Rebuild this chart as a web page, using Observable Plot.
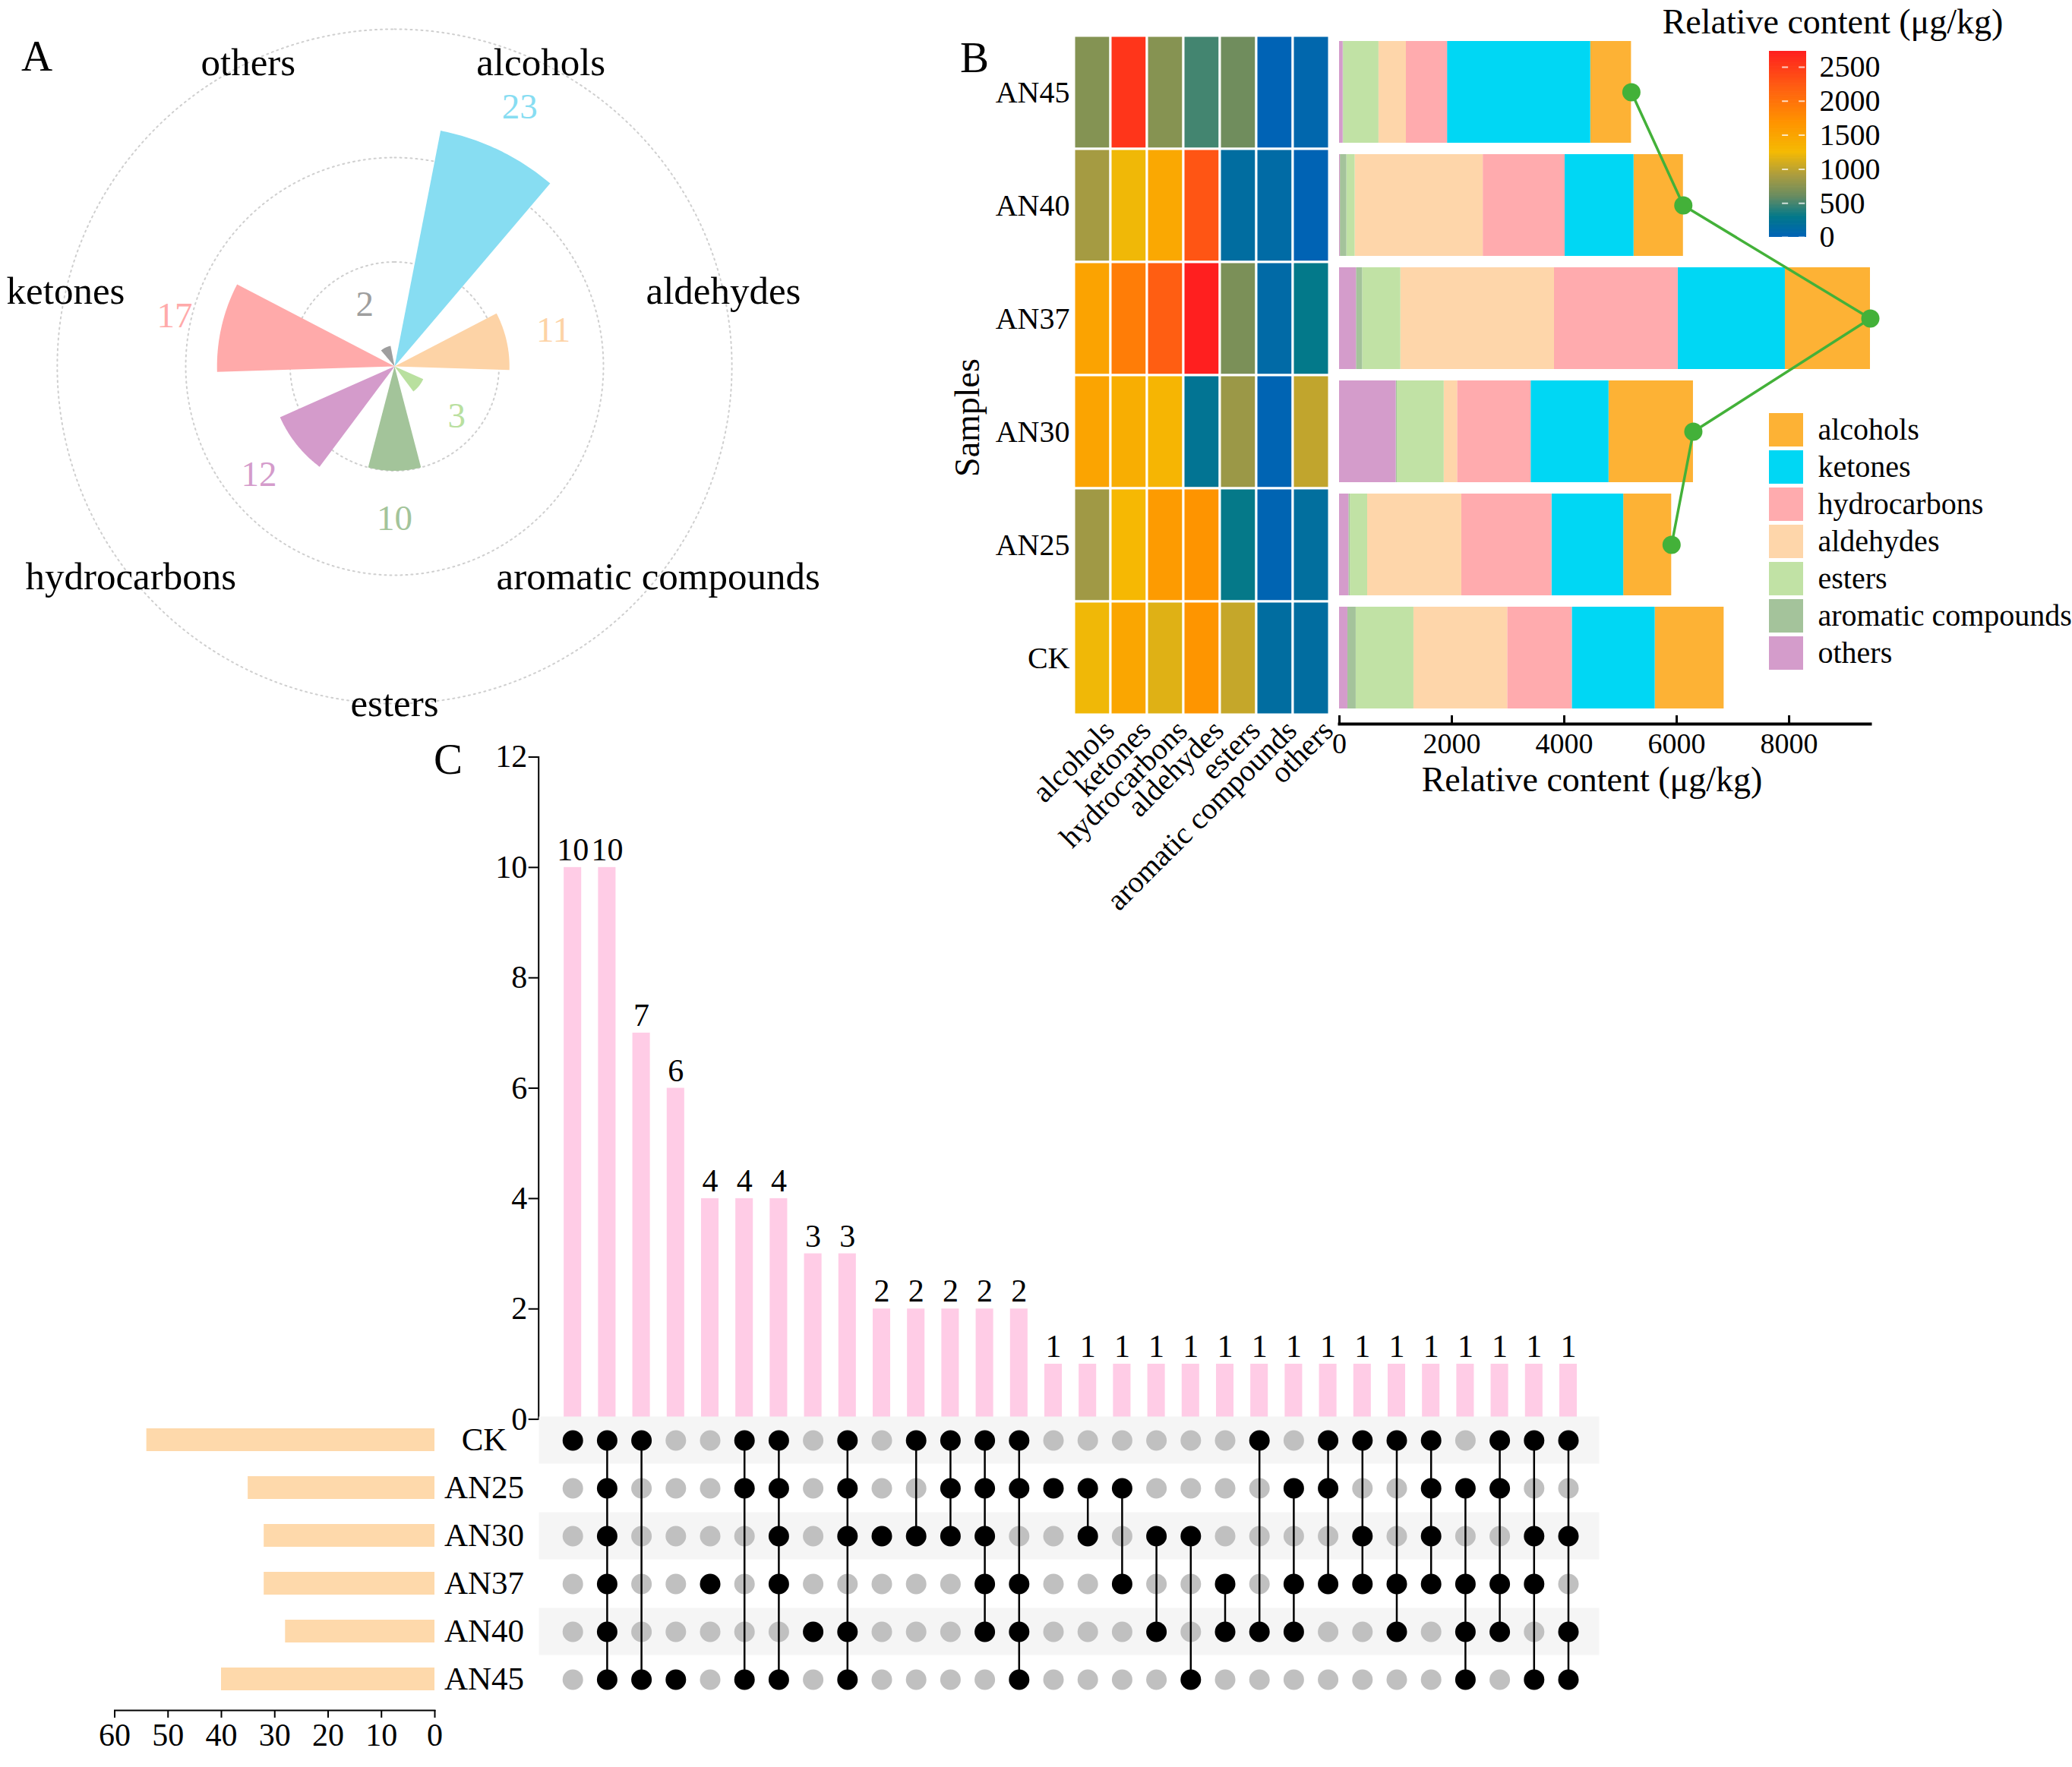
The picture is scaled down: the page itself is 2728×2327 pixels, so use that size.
<!DOCTYPE html>
<html><head><meta charset="utf-8">
<script src="https://cdn.jsdelivr.net/npm/d3@7"></script>
<script src="https://cdn.jsdelivr.net/npm/@observablehq/plot@0.6"></script>
<style>
html,body{margin:0;padding:0;background:#fff;}
#root{position:relative;width:2728px;height:2327px;background:#fff;overflow:hidden;font-family:"Liberation Serif","Times New Roman",serif;color:#000;}
#root > svg{position:absolute;}
.lbl{position:absolute;white-space:nowrap;line-height:1;font-family:"Liberation Serif","Times New Roman",serif;color:#000;}
</style></head>
<body><div id="root"></div>
<script>
// ================= DATA =================
// Panel A: number of compounds per class
const polarCats = ["alcohols","aldehydes","aromatic compounds","esters","hydrocarbons","ketones","others"];
const polarCounts = [23, 11, 3, 10, 12, 17, 2];
const polarColors = ["#87DDF2","#FDD3A6","#B9E09F","#A3C49A","#D49BCB","#FFAAAA","#9E9E9E"];

// Panel B: relative content (ug/kg) per sample (rows top->bottom) and class
const samplesB = ["AN45","AN40","AN37","AN30","AN25","CK"];
const classes = ["alcohols","ketones","hydrocarbons","aldehydes","esters","aromatic compounds","others"];
const alcohols     = [725, 879, 1514, 1502, 853, 1226];
const ketones      = [2548, 1226, 1906, 1386, 1277, 1476];
const hydrocarbons = [732, 1457, 2201, 1309, 1604, 1149];
const aldehydes    = [488, 2278, 2734, 237, 1675, 1668];
const esters       = [629, 148, 680, 834, 308, 1027];
const aromatic     = [8, 115, 109, 20, 25, 148];
const others       = [64, 15, 301, 1008, 167, 148];
const classColors = ["#FDB235","#00D7F4","#FFABAE","#FED6AA","#C1E2A5","#A4C39B","#D49CCB"];
const stackOrder = ["others","aromatic compounds","esters","aldehydes","hydrocarbons","ketones","alcohols"];
const lineSamples = ["AN45","AN40","AN37","AN30","AN25"];
const xTicksB = [0, 2000, 4000, 6000, 8000];
const colorbarTicks = [0, 500, 1000, 1500, 2000, 2500];
const heatPalette = ["#0062B6","#03798A","#6A8C60","#AA9C40","#F5BA03","#FF9200","#FF5E12","#FF1F1F"];
const heatStopsFrac = [0, 0.11, 0.22, 0.33, 0.457, 0.622, 0.805, 1];

// Panel C: UpSet
const setNames = ["CK","AN25","AN30","AN37","AN40","AN45"];
const setSizes = [54, 35, 32, 32, 28, 40];
const interSets = [
  ["CK"],
  ["CK","AN25","AN30","AN37","AN40","AN45"],
  ["CK","AN45"],
  ["AN45"],
  ["AN37"],
  ["CK","AN25","AN45"],
  ["CK","AN25","AN30","AN37","AN45"],
  ["AN40"],
  ["CK","AN25","AN30","AN40","AN45"],
  ["AN30"],
  ["CK","AN30"],
  ["CK","AN25","AN30"],
  ["CK","AN25","AN30","AN37","AN40"],
  ["CK","AN25","AN37","AN40","AN45"],
  ["AN25"],
  ["AN25","AN30"],
  ["AN25","AN37"],
  ["AN30","AN40"],
  ["AN30","AN45"],
  ["AN37","AN40"],
  ["CK","AN40"],
  ["AN25","AN37","AN40"],
  ["CK","AN25","AN37"],
  ["CK","AN30","AN37"],
  ["CK","AN37","AN40"],
  ["CK","AN25","AN30","AN37"],
  ["AN25","AN37","AN40","AN45"],
  ["CK","AN25","AN37","AN40"],
  ["CK","AN30","AN37","AN45"],
  ["CK","AN30","AN40","AN45"]
];
const interCounts = [10,10,7,6,4,4,4,3,3,2,2,2,2,2,1,1,1,1,1,1,1,1,1,1,1,1,1,1,1,1];
const yTicksC = [0, 2, 4, 6, 8, 10, 12];
const xTicksC = [0, 10, 20, 30, 40, 50, 60];

// ================= HELPERS =================
const root = document.getElementById("root");
const FONT = "'Liberation Serif','Times New Roman',serif";
const baseStyle = {fontFamily: FONT, fontSize: "40px", background: "transparent", overflow: "visible", color: "#000"};
const plain = d => String(d);
function place(el, left, top) { el.style.position = "absolute"; el.style.left = left + "px"; el.style.top = top + "px"; root.appendChild(el); return el; }
function label(text, left, top, size, extra) {
  const d = document.createElement("div"); d.className = "lbl"; d.textContent = text;
  d.style.fontSize = size + "px"; if (extra) Object.assign(d.style, extra);
  return place(d, left, top);
}

// ================= PANEL A (polar bars) =================
{
  const cx = 519, cy = 482, k = 13.75, W = 1040, H = 964;
  const rOuter = 32.3, rGrid = [10, 20, rOuter];
  const deg = Math.PI / 180, n = polarCats.length, step = 360 / n, halfW = 0.57 * step / 2;
  const th = i => (i + 0.5) * step * deg;
  const wedgePts = polarCats.flatMap((c, i) => {
    const v = polarCounts[i], mid = (i + 0.5) * step;
    const pts = [{cat: c, x: 0, y: 0}];
    for (let j = 0; j <= 40; j++) {
      const a = (mid - halfW + 2 * halfW * j / 40) * deg;
      pts.push({cat: c, x: v * Math.sin(a), y: v * Math.cos(a)});
    }
    pts.push({cat: c, x: 0, y: 0});
    return pts;
  });
  const circlePts = rGrid.flatMap(r => d3.range(0, 361, 1).map(a => ({r, x: r * Math.sin(a * deg), y: r * Math.cos(a * deg)})));
  const svg = Plot.plot({
    width: W, height: H, margin: 0,
    x: {domain: [-cx / k, (W - cx) / k], axis: null},
    y: {domain: [-(H - cy) / k, cy / k], axis: null},
    color: {domain: polarCats, range: polarColors},
    style: baseStyle,
    marks: [
      Plot.line(circlePts, {x: "x", y: "y", z: "r", stroke: "#CFCFCF", strokeWidth: 2, strokeDasharray: "2 5"}),
      Plot.line(wedgePts, {x: "x", y: "y", z: "cat", fill: "cat", stroke: "none"}),
      Plot.text(polarCats, {x: (d, i) => rOuter * Math.sin(th(i)), y: (d, i) => rOuter * Math.cos(th(i)), text: d => d, fontSize: 51, fill: "#000"}),
      Plot.text(polarCounts, {x: (d, i) => (d + 4.6) * Math.sin(th(i)), y: (d, i) => (d + 4.6) * Math.cos(th(i)), text: d => String(d), fontSize: 47, fill: (d, i) => polarCats[i]})
    ]
  });
  place(svg, 0, 0);
}

// ================= PANEL B =================
const series = [alcohols, ketones, hydrocarbons, aldehydes, esters, aromatic, others];
const heat = classes.flatMap((c, ci) => samplesB.map((s, si) => ({cls: c, sample: s, value: series[ci][si]})));
const totals = samplesB.map((s, si) => ({sample: s, total: d3.sum(series, a => a[si])}));
const lineTotals = totals.filter(d => lineSamples.includes(d.sample));
const cmax = d3.max(heat, d => d.value);
const heatColor = {type: "linear", domain: heatStopsFrac.map(f => f * cmax), range: heatPalette, interpolate: "rgb"};

// heatmap
{
  const svg = Plot.plot({
    width: 500, height: 1250, marginLeft: 164, marginRight: 0, marginTop: 44, marginBottom: 1250 - 943,
    x: {type: "band", domain: classes, padding: 0},
    y: {type: "band", domain: samplesB, padding: 0},
    color: heatColor,
    style: baseStyle,
    marks: [
      Plot.cell(heat, {x: "cls", y: "sample", fill: "value", stroke: "white", strokeWidth: 3}),
      Plot.axisX({tickRotate: -45, tickSize: 0, tickPadding: 12, dx: 22, fontSize: 40, label: null}),
      Plot.axisY({tickSize: 0, tickPadding: 6, fontSize: 40, label: null}),
      Plot.text(["Samples"], {frameAnchor: "left", dx: -140, dy: 56, rotate: -90, textAnchor: "middle", lineAnchor: "middle", text: d => d, fontSize: 46})
    ]
  });
  place(svg, 1250, 0);
}

// stacked bars + total line
{
  const H = 1000, frameH = 953 - 44;
  const svg = Plot.plot({
    width: 710, height: H, marginLeft: 3, marginRight: 8, marginTop: 44, marginBottom: H - 953,
    x: {domain: [0, d3.max(totals, d => d.total)], axis: null},
    y: {type: "band", domain: samplesB, range: [44, 943], paddingInner: 0.1, paddingOuter: 0.05, axis: null},
    color: {domain: classes, range: classColors},
    style: baseStyle,
    marks: [
      Plot.barX(heat, {x: "value", y: "sample", fill: "cls", order: stackOrder}),
      Plot.line(lineTotals, {x: "total", y: "sample", stroke: "#43B139", strokeWidth: 3.5}),
      Plot.dot(lineTotals, {x: "total", y: "sample", r: 12, fill: "#43B139"}),
      Plot.frame({anchor: "bottom", strokeWidth: 4}),
      Plot.ruleX(xTicksB, {x: d => d, insetTop: frameH - 11, strokeWidth: 3}),
      Plot.axisX({ticks: xTicksB, tickFormat: plain, tickSize: 0, tickPadding: 12, fontSize: 38, label: null}),
      Plot.text(["Relative content (μg/kg)"], {frameAnchor: "bottom", dy: 74, dx: -17, textAnchor: "middle", lineAnchor: "middle", text: d => d, fontSize: 46})
    ]
  });
  place(svg, 1760, 0);
}

// colorbar
{
  const nS = 200;
  const slices = d3.range(nS).map(j => ({v0: cmax * j / nS, v1: Math.min(cmax, cmax * (j + 1.6) / nS), vm: cmax * (j + 0.5) / nS}));
  const svg = Plot.plot({
    width: 200, height: 300, marginLeft: 29, marginRight: 122, marginTop: 27, marginBottom: 28,
    x: {domain: [0, 1], axis: null},
    y: {domain: [0, cmax]},
    color: heatColor,
    style: baseStyle,
    marks: [
      Plot.rect(slices, {x1: () => 0, x2: () => 1, y1: "v0", y2: "v1", fill: "vm"}),
      Plot.ruleY(colorbarTicks, {y: d => d, x1: () => 0.35, x2: () => 1, stroke: "white", strokeWidth: 2, strokeDasharray: "8 14", strokeOpacity: 0.75}),
      Plot.axisY({anchor: "right", ticks: colorbarTicks, tickFormat: plain, tickSize: 0, tickPadding: 17, fontSize: 40, label: null})
    ]
  });
  place(svg, 2300, 40);
}

// class legend
{
  const svg = Plot.plot({
    width: 408, height: 370, marginLeft: 9, marginRight: 354, marginTop: 11.5, marginBottom: 15.5,
    y: {type: "band", domain: classes, range: [11.5, 354.5], paddingInner: 0.102, paddingOuter: 0.051, axis: null},
    color: {domain: classes, range: classColors},
    style: baseStyle,
    marks: [
      Plot.cell(classes, {y: d => d, fill: d => d}),
      Plot.text(classes, {y: d => d, frameAnchor: "right", dx: 19, textAnchor: "start", lineAnchor: "middle", text: d => d, fontSize: 40})
    ]
  });
  place(svg, 2320, 530);
}
label("Relative content (μg/kg)", 2113, 6, 46, {width: "600px", textAlign: "center"});

// ================= PANEL C (UpSet) =================
const cols = d3.range(interCounts.length);
const xBandC = {type: "band", domain: cols, range: [171.1, 1527.1], paddingInner: 0.49, paddingOuter: 0.245, round: false, axis: null};

// intersection bars
{
  const svg = Plot.plot({
    width: 1570, height: 940, marginLeft: 148.7, marginRight: 0, marginTop: 56.5, marginBottom: 11.4,
    x: xBandC,
    y: {domain: [0, 12]},
    style: baseStyle,
    marks: [
      Plot.barY(interCounts, {x: (d, i) => i, y: d => d, fill: "#FFCCE6"}),
      Plot.text(interCounts, {x: (d, i) => i, y: d => d, text: d => String(d), dy: -23, fontSize: 42}),
      Plot.frame({anchor: "left", strokeWidth: 2}),
      Plot.axisY({ticks: yTicksC, tickSize: 13, tickPadding: 2, fontSize: 42, strokeWidth: 2, label: null})
    ]
  });
  place(svg, 560, 940);
}

// matrix
{
  const matrixAll = cols.flatMap(c => setNames.map(s => ({col: c, set: s, on: interSets[c].includes(s)})));
  const onPts = matrixAll.filter(d => d.on);
  const linkPts = onPts.filter(d => interSets[d.col].length > 1);
  const svg = Plot.plot({
    width: 1570, height: 420, marginLeft: 149, marginRight: 24, marginTop: 14.5, marginBottom: 27.5,
    x: xBandC,
    y: {type: "band", domain: setNames, range: [14.5, 392.5], padding: 0, axis: null},
    style: baseStyle,
    marks: [
      Plot.cell(setNames.filter((d, i) => i % 2 === 0), {y: d => d, fill: "#F5F5F5", inset: 0.5}),
      Plot.dot(matrixAll.filter(d => !d.on), {x: "col", y: "set", r: 13.5, fill: "#C0C0C0"}),
      Plot.line(linkPts, {x: "col", y: "set", z: "col", stroke: "black", strokeWidth: 2.5}),
      Plot.dot(onPts, {x: "col", y: "set", r: 13.5, fill: "black"})
    ]
  });
  place(svg, 560, 1850);
}

// set sizes
{
  const svg = Plot.plot({
    width: 720, height: 497, marginLeft: 150.5, marginRight: 148, marginTop: 34.5, marginBottom: 75,
    x: {domain: [0, 60], range: [572, 150.5]},
    y: {type: "band", domain: setNames, range: [34.5, 412.5], paddingInner: 0.524, paddingOuter: 0.262, axis: null},
    style: baseStyle,
    marks: [
      Plot.barX(setSizes, {x: d => d, y: (d, i) => setNames[i], fill: "#FED9AB"}),
      Plot.frame({anchor: "bottom", strokeWidth: 2}),
      Plot.axisX({ticks: xTicksC, tickSize: 10, tickPadding: 7, fontSize: 42, strokeWidth: 2, label: null}),
      Plot.text(setNames, {y: d => d, frameAnchor: "right", dx: 65, textAnchor: "middle", lineAnchor: "middle", text: d => d, fontSize: 43})
    ]
  });
  place(svg, 0, 1830);
}

// panel letters
label("A", 28, 45, 57);
label("B", 1264, 47, 57);
label("C", 571, 971, 57);
</script>
</body></html>
